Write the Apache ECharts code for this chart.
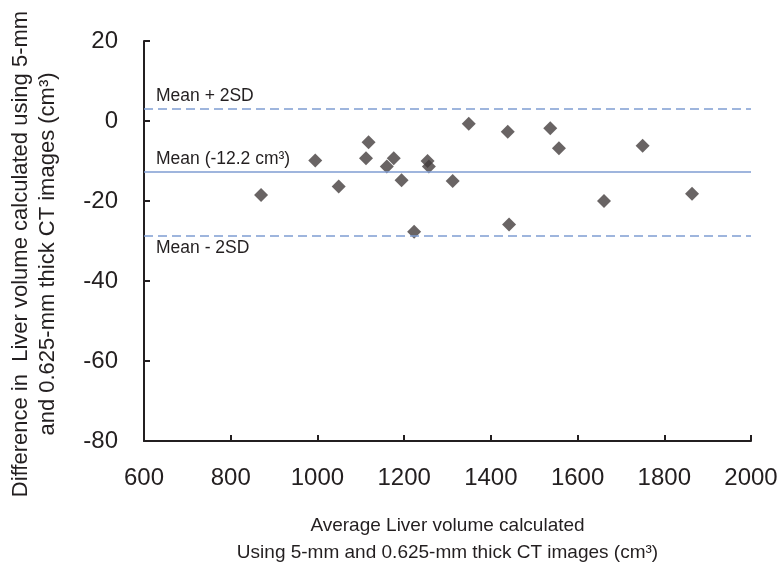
<!DOCTYPE html>
<html>
<head>
<meta charset="utf-8">
<script src="https://cdn.jsdelivr.net/npm/echarts@6/dist/echarts.min.js"></script>
<style>
    html, body { margin: 0; padding: 0; background: #fff; }
    #chart { width: 783px; height: 571px; }
</style>
</head>
<body>
<div id="chart"></div>
<script>
    // average volume (cm3) and difference (cm3)
    var avgVolume = [870, 995, 1049, 1112, 1118, 1160, 1176, 1194, 1223, 1254, 1257, 1312,
        1349, 1439, 1442, 1537, 1557, 1661, 1750, 1864];
    var diffVolume = [-18.5, -9.9, -16.4, -9.3, -5.3, -11.4, -9.3, -14.8, -27.7, -10.0, -11.4, -15.0,
        -0.7, -2.7, -25.9, -1.8, -6.8, -20.0, -6.2, -18.2];

    var meanDiff = -12.7;
    var upperLimit = 3.0;
    var lowerLimit = -28.6;

    var font = 'Arial, "Liberation Sans", sans-serif';
    var lineColor = '#7f9dd2';
    var ink = '#231f20';

    var points = avgVolume.map(function (v, i) { return [v, diffVolume[i]]; });

    var myChart = echarts.init(document.getElementById('chart'));

    var option = {
        animation: false,
        grid: { left: 144, right: 32, top: 41, bottom: 130 },
        xAxis: {
            type: 'value',
            min: 600, max: 2000, interval: 200,
            axisLine: { onZero: false, lineStyle: { color: ink, width: 2 } },
            axisTick: { inside: true, length: 6, lineStyle: { color: ink, width: 2 } },
            axisLabel: {
                color: ink, fontSize: 24, fontFamily: font, margin: 25,
                formatter: function (v) { return String(v); }
            },
            splitLine: { show: false },
            nameLocation: 'middle',
            nameGap: 71,
            name: 'Average Liver volume calculated\nUsing 5-mm and 0.625-mm thick CT images (cm³)',
            nameTextStyle: { fontSize: 19, fontFamily: font, color: ink, lineHeight: 27 }
        },
        yAxis: {
            type: 'value',
            min: -80, max: 20, interval: 20,
            axisLine: { show: true, onZero: false, lineStyle: { color: ink, width: 2 } },
            axisTick: { show: true, inside: true, length: 6, lineStyle: { color: ink, width: 2 } },
            axisLabel: { color: ink, fontSize: 24, fontFamily: font, margin: 26 },
            splitLine: { show: false }
        },
        graphic: [
            {
                type: 'text', x: 21, y: 254, rotation: Math.PI / 2,
                style: {
                    text: 'Difference in  Liver volume calculated using 5-mm',
                    font: '22px ' + font, fill: ink, align: 'center', verticalAlign: 'middle'
                }
            },
            {
                type: 'text', x: 48, y: 254, rotation: Math.PI / 2,
                style: {
                    text: 'and 0.625-mm thick CT images (cm³)',
                    font: '22px ' + font, fill: ink, align: 'center', verticalAlign: 'middle'
                }
            }
        ],
        series: [
            {
                type: 'scatter',
                data: points,
                symbol: 'diamond',
                symbolSize: 14,
                itemStyle: { color: '#433d3d' },
                markLine: {
                    silent: true,
                    symbol: 'none',
                    data: [
                        {
                            yAxis: upperLimit,
                            lineStyle: { color: lineColor, width: 1.5, type: [9, 5] },
                            label: { formatter: 'Mean + 2SD', position: 'insideStartTop' }
                        },
                        {
                            yAxis: meanDiff,
                            lineStyle: { color: lineColor, width: 1.5, type: 'solid' },
                            label: { formatter: 'Mean (-12.2 cm³)', position: 'insideStartTop' }
                        },
                        {
                            yAxis: lowerLimit,
                            lineStyle: { color: lineColor, width: 1.5, type: [9, 5] },
                            label: { formatter: 'Mean - 2SD', position: 'insideStartBottom' }
                        }
                    ],
                    label: {
                        color: ink,
                        fontSize: 17.5,
                        fontFamily: font,
                        distance: [12, 4]
                    }
                }
            }
        ]
    };

    myChart.setOption(option);
</script>
</body>
</html>
